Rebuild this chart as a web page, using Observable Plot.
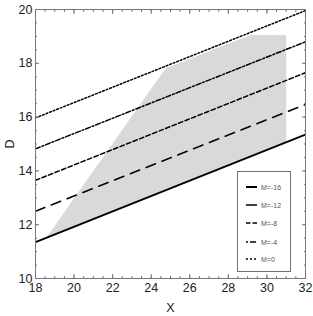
<!DOCTYPE html>
<html><head><meta charset="utf-8">
<script src="https://cdn.jsdelivr.net/npm/d3@7"></script>
<script src="https://cdn.jsdelivr.net/npm/@observablehq/plot@0.6"></script>
<style>
body{margin:0;background:#fff;font-family:"Liberation Sans",Arial,sans-serif}
#wrap{position:relative;width:313px;height:316px}
#legend{position:absolute;left:237px;top:171px;width:52px;height:99px;border:1px solid #6f6f6f;background:#fff;box-sizing:content-box}
#legend .row{position:absolute;left:8px;height:10px;display:flex;align-items:center}
#legend .row span{font-size:7px;color:#555;margin-left:4px;font-family:"Liberation Sans",Arial,sans-serif}
</style></head><body><div id="wrap"></div>
<script>
// Series labels
const M = ["M=-16", "M=-12", "M=-8", "M=-4", "M=0"];
// Line endpoints (X) and values (D) per series
const lineX = [18, 32];
const D_m16 = [11.35, 15.35];
const D_m12 = [12.50, 16.47];
const D_m8 = [13.65, 17.65];
const D_m4 = [14.82, 18.80];
const D_0 = [15.97, 19.96];
// Shaded feasible region
const regionX = [18.57, 24.75, 29.15, 31.0, 31.0];
const regionD = [11.52, 17.82, 19.05, 19.05, 15.06];
// Ticks
const xTicks = [18, 20, 22, 24, 26, 28, 30, 32];
const yTicks = [10, 12, 14, 16, 18, 20];
const xMinor = d3.range(18, 32.001, 0.5);
const yMinor = d3.range(10, 20.001, 0.5);

const seriesD = [D_m16, D_m12, D_m8, D_m4, D_0];
const styles = {
  "M=-16": {w: 2, dash: null},
  "M=-12": {w: 1.5, dash: "10,7"},
  "M=-8": {w: 1.5, dash: "4.5,2.5"},
  "M=-4": {w: 1.5, dash: "5,2,1.8,2"},
  "M=0": {w: 1.5, dash: "1.8,2"}
};
const legendDash = {
  "M=-16": null, "M=-12": null, "M=-8": "4.5,2", "M=-4": "2,2,6,2", "M=0": "2,2"
};

const rows = M.map((m, i) => lineX.map((x, j) => ({M: m, X: x, D: seriesD[i][j]})));
const region = regionX.map((x, i) => ({X: x, D: regionD[i]}));

const gray = "#777";
const fs = 12.5;
const plot = Plot.plot({
  width: 313, height: 316,
  marginLeft: 35, marginRight: 8, marginTop: 9, marginBottom: 38,
  style: {fontFamily: '"Liberation Sans", Arial, sans-serif', fontSize: "12.5px", color: "#222", background: "#fff"},
  x: {domain: [18, 32]},
  y: {domain: [10, 20]},
  marks: [
    Plot.line(region.concat([region[0]]), {x: "X", y: "D", fill: "#d9d9d9", stroke: "none"}),
    ...rows.map((r, i) => Plot.line(r, {x: "X", y: "D", stroke: "#000",
      strokeWidth: styles[M[i]].w, strokeDasharray: styles[M[i]].dash, clip: true})),
    Plot.frame({stroke: gray}),
    Plot.axisX({ticks: xTicks, anchor: "bottom", tickSize: 0, tickPadding: 5, fontSize: fs, label: "X", labelAnchor: "center", labelArrow: "none", labelOffset: 33, fill: "#222"}),
    Plot.axisX({ticks: xTicks, anchor: "bottom", tickSize: -4, tickFormat: () => "", stroke: gray, label: null}),
    Plot.axisX({ticks: xMinor, anchor: "bottom", tickSize: -2, tickFormat: () => "", stroke: gray, label: null}),
    Plot.axisX({ticks: xTicks, anchor: "top", tickSize: -4, tickFormat: () => "", stroke: gray, label: null}),
    Plot.axisX({ticks: xMinor, anchor: "top", tickSize: -2, tickFormat: () => "", stroke: gray, label: null}),
    Plot.axisY({ticks: yTicks, anchor: "left", tickSize: 0, tickPadding: 3, fontSize: fs, label: "D", labelAnchor: "center", labelArrow: "none", labelOffset: 30, fill: "#222"}),
    Plot.axisY({ticks: yTicks, anchor: "left", tickSize: -4, tickFormat: () => "", stroke: gray, label: null}),
    Plot.axisY({ticks: yMinor, anchor: "left", tickSize: -2, tickFormat: () => "", stroke: gray, label: null}),
    Plot.axisY({ticks: yTicks, anchor: "right", tickSize: -4, tickFormat: () => "", stroke: gray, label: null}),
    Plot.axisY({ticks: yMinor, anchor: "right", tickSize: -2, tickFormat: () => "", stroke: gray, label: null})
  ]
});
const wrap = document.getElementById("wrap");
wrap.appendChild(plot);

// Legend inside plot area
const legend = document.createElement("div");
legend.id = "legend";
const legendY = [10, 28, 46, 65, 82];
M.forEach((m, i) => {
  const row = document.createElement("div");
  row.className = "row";
  row.style.top = legendY[i] + "px";
  const d = legendDash[m];
  row.innerHTML = `<svg width="11" height="6"><line x1="0" x2="11" y1="3" y2="3" stroke="#000" stroke-width="${styles[m].w}" ${d ? `stroke-dasharray="${d}"` : ""}/></svg><span>${m}</span>`;
  legend.appendChild(row);
});
wrap.appendChild(legend);
</script>
</body></html>
